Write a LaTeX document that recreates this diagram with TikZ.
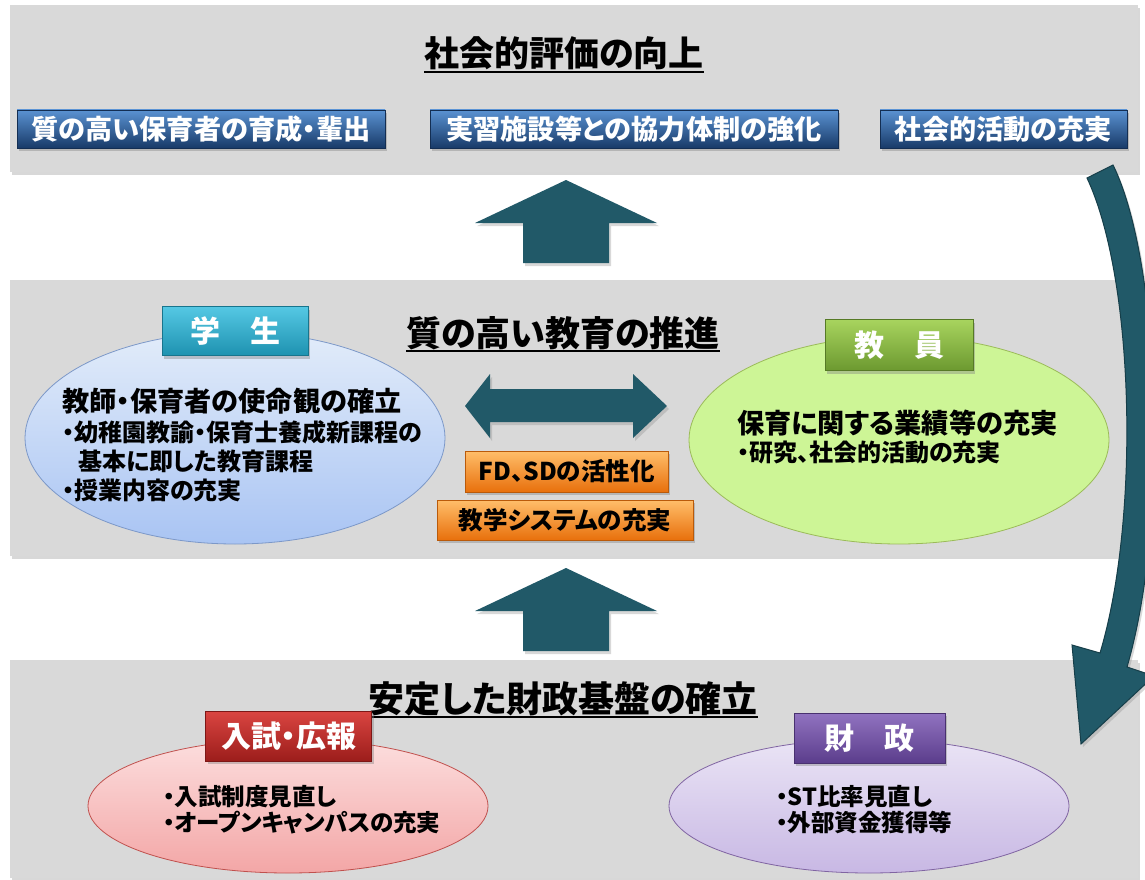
\documentclass[tikz,border=0pt]{standalone}
\usepackage{fontspec}
\setmainfont{Noto Sans CJK JP}[RawFeature=+palt]
\usetikzlibrary{shadows}
\definecolor{panel}{HTML}{D9D9D9}
\definecolor{arrowc}{HTML}{215968}
\definecolor{arrowline}{HTML}{163E49}
\definecolor{bluetop}{HTML}{5A92D2}
\definecolor{bluebot}{HTML}{183A68}
\definecolor{tealtop}{HTML}{55C8E4}
\definecolor{tealbot}{HTML}{1E92B0}
\definecolor{greentop}{HTML}{A8D45E}
\definecolor{greenbot}{HTML}{6C9930}
\definecolor{redtop}{HTML}{DA4541}
\definecolor{redbot}{HTML}{9C1D1B}
\definecolor{purptop}{HTML}{9173C0}
\definecolor{purpbot}{HTML}{5B3D8C}
\definecolor{orgtop}{HTML}{FFBE6A}
\definecolor{orgbot}{HTML}{E8700C}
\definecolor{ovalbluetop}{HTML}{E2ECFA}
\definecolor{ovalbluebot}{HTML}{A9C4F3}
\definecolor{ovalblueline}{HTML}{7C98C8}
\definecolor{ovalgreen}{HTML}{CDF596}
\definecolor{ovalgreenline}{HTML}{9BBB59}
\definecolor{ovalredtop}{HTML}{FCDEDE}
\definecolor{ovalredbot}{HTML}{F3A6A6}
\definecolor{ovalredline}{HTML}{C0504D}
\definecolor{ovalpurtop}{HTML}{EAE4F5}
\definecolor{ovalpurbot}{HTML}{C8B8E4}
\definecolor{ovalpurline}{HTML}{8064A2}
\tikzset{
  panelbox/.style={fill=panel, drop shadow={shadow xshift=2pt, shadow yshift=-3pt, opacity=0.3}},
  boxshadow/.style={drop shadow={shadow xshift=2pt, shadow yshift=-3pt, opacity=0.4}},
  bluebox/.style={rectangle, draw=bluebot!80!black, line width=0.6pt, top color=bluetop, bottom color=bluebot,
    text=white, font=\bfseries\fontsize{27.2}{30}\selectfont, minimum height=38pt, inner sep=0pt, boxshadow},
  labelbox/.style={rectangle, line width=0.6pt, text=white, font=\bfseries\fontsize{30}{34}\selectfont,
    inner sep=0pt, boxshadow},
  orgbox/.style={rectangle, draw=orgbot!80!black, line width=0.6pt, top color=orgtop, bottom color=orgbot,
    text=black, font=\bfseries\fontsize{24.5}{27}\selectfont, inner sep=0pt, boxshadow},
  oval/.style={ellipse, line width=0.8pt, inner sep=0pt},
  title/.style={inner sep=0pt, font=\bfseries\fontsize{35}{40}\selectfont},
  bigline/.style={anchor=base west, inner sep=0pt, font=\bfseries\fontsize{27.2}{30}\selectfont},
  smallline/.style={anchor=base west, inner sep=0pt, font=\bfseries\fontsize{24}{27}\selectfont},
  lowline/.style={anchor=base west, inner sep=0pt, font=\bfseries\fontsize{23.5}{27}\selectfont},
  blockarrow/.style={fill=arrowc, drop shadow={shadow xshift=2pt, shadow yshift=-3pt, opacity=0.3}},
}
\usetikzlibrary{shapes.geometric}
\begin{document}
\begin{tikzpicture}[x=1pt, y=-1pt]
\clip (0,0) rectangle (1145,880);
\fill[white] (0,0) rectangle (1145,880);

% panels
\path[panelbox] (10,5) rectangle (1138,172);
\path[panelbox] (10,280) rectangle (1138,556);
\path[panelbox] (10,660) rectangle (1138,878);

% top panel
\node[title, anchor=base] (t1) at (564,67) {社会的評価の向上};
\draw[line width=2.5pt] ([yshift=-5pt]t1.base west) -- ([yshift=-5pt]t1.base east);
\node[bluebox, minimum width=368pt] (b1) at (201,129) {質の高い保育者の育成・輩出};
\node[bluebox, minimum width=408pt] (b2) at (634,129) {実習施設等との協力体制の強化};
\node[bluebox, minimum width=247pt] (b3) at (1003.5,129) {社会的活動の充実};

% up arrow 1
\path[blockarrow] (523,263) -- (523,223) -- (475,223) -- (566,180) -- (657,223) -- (609,223) -- (609,263) -- cycle;

% middle panel
\node[title, anchor=base] (t2) at (563,346) {質の高い教育の推進};
\draw[line width=2.5pt] ([yshift=-5pt]t2.base west) -- ([yshift=-5pt]t2.base east);

\node[oval, draw=ovalblueline, top color=ovalbluetop, bottom color=ovalbluebot, minimum width=420pt, minimum height=212pt] (eS) at (235,438) {};
\node[labelbox, draw=tealbot!80!black, top color=tealtop, bottom color=tealbot, minimum width=146pt, minimum height=49pt] (lS) at (235,331) {学　生};
\node[bigline] (s1) at (62,411) {教師・保育者の使命観の確立};
\node[smallline] (s2) at (62,441) {・幼稚園教諭・保育士養成新課程の};
\node[smallline] (s3) at (78,470) {基本に即した教育課程};
\node[smallline] (s4) at (62,499) {・授業内容の充実};

\node[oval, draw=ovalgreenline, fill=ovalgreen, minimum width=420pt, minimum height=208pt] (eT) at (899,440) {};
\node[labelbox, draw=greenbot!80!black, top color=greentop, bottom color=greenbot, minimum width=148pt, minimum height=51pt] (lT) at (899,345) {教　員};
\node[bigline] (g1) at (737,433) {保育に関する業績等の充実};
\node[smallline] (g2) at (737,461) {・研究、社会的活動の充実};

% double arrow
\path[blockarrow] (465,406) -- (490,374) -- (490,389) -- (633,389) -- (633,374) -- (667,406) -- (633,438) -- (633,422) -- (490,422) -- (490,438) -- cycle;

\node[orgbox, minimum width=203pt, minimum height=41pt] (o1) at (566.5,471.5) {FD、SDの活性化};
\node[orgbox, minimum width=256pt, minimum height=40pt] (o2) at (565,520) {教学システムの充実};

% up arrow 2
\path[blockarrow] (523,651) -- (523,611) -- (475,611) -- (566,568) -- (657,611) -- (609,611) -- (609,651) -- cycle;

% bottom panel
\node[title, anchor=base, font=\bfseries\fontsize{36}{40}\selectfont] (t3) at (563,712) {安定した財政基盤の確立};
\draw[line width=2.5pt] ([yshift=-5pt]t3.base west) -- ([yshift=-5pt]t3.base east);

\node[oval, draw=ovalredline, top color=ovalredtop, bottom color=ovalredbot, minimum width=400pt, minimum height=134pt] (eA) at (288,806) {};
\node[labelbox, draw=redbot!80!black, top color=redtop, bottom color=redbot, minimum width=166pt, minimum height=50pt] (lA) at (288.5,736) {入試・広報};
\node[lowline] (a1) at (163,805) {・入試制度見直し};
\node[lowline] (a2) at (163,831) {・オープンキャンパスの充実};

\node[oval, draw=ovalpurline, top color=ovalpurtop, bottom color=ovalpurbot, minimum width=400pt, minimum height=134pt] (eF) at (869,806) {};
\node[labelbox, draw=purpbot!80!black, top color=purptop, bottom color=purpbot, minimum width=151pt, minimum height=50pt] (lF) at (869.5,738) {財　政};
\node[lowline] (f1) at (776,805) {・ST比率見直し};
\node[lowline] (f2) at (776,831) {・外部資金獲得等};

% curved arrow
\path[blockarrow, draw=arrowline, line width=1pt] (1087,178) -- (1113,165) .. controls (1160,260) and (1170,520) .. (1127,667) -- (1154,676) -- (1081,744) -- (1072,645) -- (1100,653) .. controls (1140,520) and (1135,280) .. (1087,178) -- cycle;
\end{tikzpicture}
\end{document}
